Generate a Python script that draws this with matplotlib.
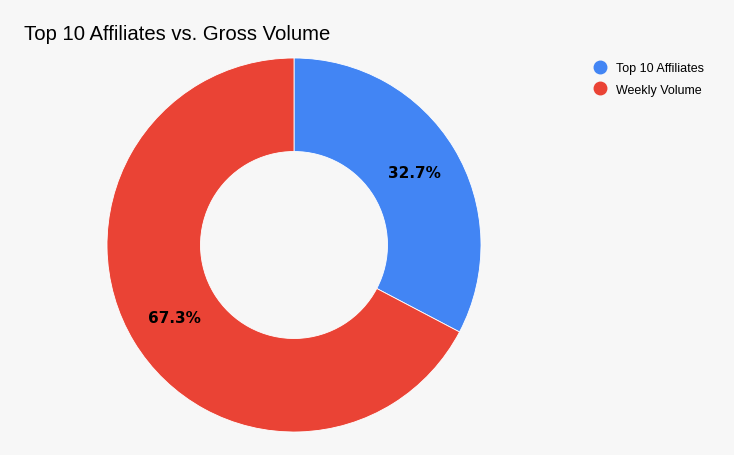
import matplotlib
matplotlib.use("Agg")
import matplotlib.pyplot as plt
from matplotlib.lines import Line2D

labels = ["Top 10 Affiliates", "Weekly Volume"]
values = [32.7, 67.3]
colors = ["#4285f4", "#ea4335"]

bg = "#f7f7f7"
fig = plt.figure(figsize=(7.34, 4.56), dpi=100, facecolor=bg)

# pie centred at (294, 246) px, radius 187 px
ax = fig.add_axes([107 / 734, (456 - 246 - 187) / 456, 374 / 734, 374 / 456])
ax.set_facecolor(bg)
wedges, texts, autotexts = ax.pie(
    values, colors=colors, startangle=90, counterclock=False,
    autopct="%.1f%%", pctdistance=0.75, radius=1,
    wedgeprops=dict(width=0.5, edgecolor="white", linewidth=0.6),
    textprops=dict(fontsize=11, fontweight="bold", color="black",
                   family="DejaVu Sans"))
ax.set_xlim(-1, 1)
ax.set_ylim(-1, 1)
ax.set_aspect("equal")
ax.axis("off")

fig.text(24 / 734, 1 - 35 / 456, "Top 10 Affiliates vs. Gross Volume",
         fontsize=14.6, family="Liberation Sans", va="center", ha="left")

handles = [Line2D([], [], marker="o", linestyle="", markersize=9,
                  markerfacecolor=c, markeredgecolor=c) for c in colors]
leg = fig.legend(handles, labels, loc="upper left",
                 bbox_to_anchor=(576 / 734, 1 - 52 / 456),
                 frameon=False, handletextpad=0.3, labelspacing=0.75,
                 prop=dict(family="Liberation Sans", size=9))

fig.savefig("out.png", dpi=100, facecolor=bg)
